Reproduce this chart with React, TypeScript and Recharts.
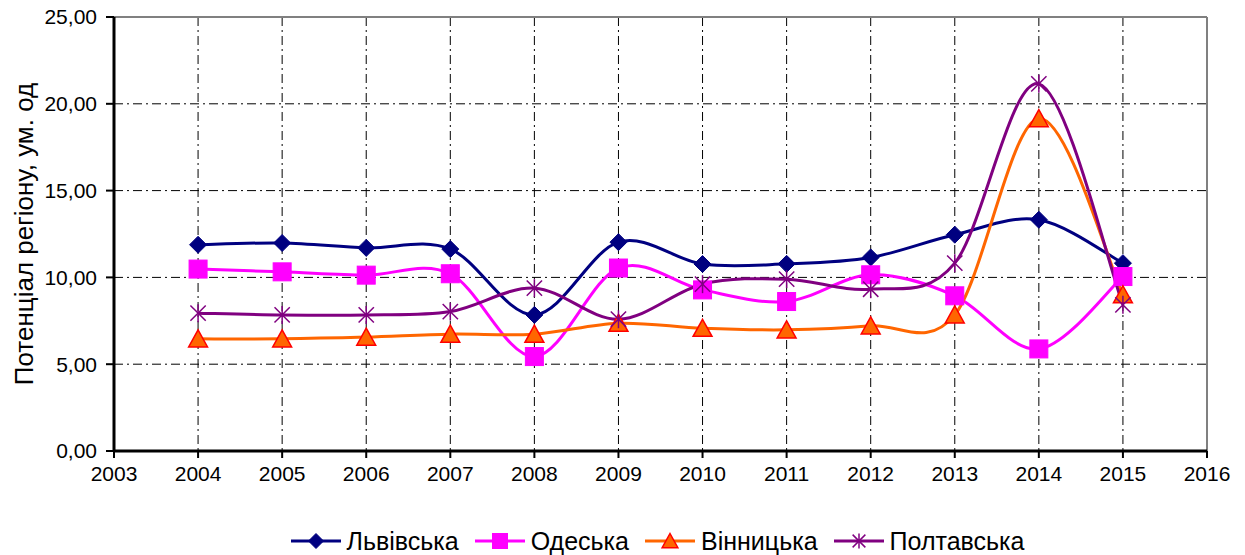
import React from 'react';
import { LineChart, Line, XAxis, YAxis, CartesianGrid, Legend, ReferenceLine } from 'recharts';

const years = [2004, 2005, 2006, 2007, 2008, 2009, 2010, 2011, 2012, 2013, 2014, 2015];
const lviv = [11.88, 11.98, 11.7, 11.63, 7.84, 12.03, 10.77, 10.78, 11.15, 12.46, 13.32, 10.82];
const odesa = [10.48, 10.32, 10.13, 10.21, 5.44, 10.54, 9.28, 8.61, 10.15, 8.94, 5.88, 10.05];
const vinnytsia = [6.46, 6.46, 6.56, 6.73, 6.73, 7.36, 7.07, 6.98, 7.21, 7.84, 19.15, 9.0];
const poltava = [7.94, 7.84, 7.84, 8.03, 9.38, 7.59, 9.61, 9.9, 9.32, 10.82, 21.15, 8.42];
const xTicks = [2003, 2004, 2005, 2006, 2007, 2008, 2009, 2010, 2011, 2012, 2013, 2014, 2015, 2016];
const yTicks = [0, 5, 10, 15, 20, 25];
const seriesNames = ['Львівська', 'Одеська', 'Вінницька', 'Полтавська'];
const yLabel = 'Потенціал регіону, ум. од';

const data = years.map((y, i) => ({
  year: y,
  lviv: lviv[i],
  odesa: odesa[i],
  vinnytsia: vinnytsia[i],
  poltava: poltava[i],
}));

const FONT = '"Liberation Sans", Arial, sans-serif';

// Excel-like smoothing (Catmull-Rom as cubic Bezier)
function excelCurve(context: any) {
  let pts: number[][] = [];
  return {
    areaStart() {},
    areaEnd() {},
    lineStart() {
      pts = [];
    },
    point(x: number, y: number) {
      pts.push([+x, +y]);
    },
    lineEnd() {
      const n = pts.length;
      if (!n) return;
      context.moveTo(pts[0][0], pts[0][1]);
      for (let i = 0; i < n - 1; i++) {
        const p0 = pts[Math.max(i - 1, 0)];
        const p1 = pts[i];
        const p2 = pts[i + 1];
        const p3 = pts[Math.min(i + 2, n - 1)];
        context.bezierCurveTo(
          p1[0] + (p2[0] - p0[0]) / 6,
          p1[1] + (p2[1] - p0[1]) / 6,
          p2[0] - (p3[0] - p1[0]) / 6,
          p2[1] - (p3[1] - p1[1]) / 6,
          p2[0],
          p2[1]
        );
      }
    },
  };
}

const Diamond = ({ cx, cy, s = 8.5 }: any) => (
  <polygon points={`${cx},${cy - s} ${cx + s},${cy} ${cx},${cy + s} ${cx - s},${cy}`} fill="#000080" stroke="#000080" strokeWidth={1} />
);
const Square = ({ cx, cy, s = 9 }: any) => (
  <rect x={cx - s} y={cy - s} width={2 * s} height={2 * s} fill="#FF00FF" stroke="#FF00FF" strokeWidth={1} />
);
const Triangle = ({ cx, cy, s = 9 }: any) => (
  <polygon points={`${cx},${cy - s} ${cx + s * 1.05},${cy + s * 0.9} ${cx - s * 1.05},${cy + s * 0.9}`} fill="#FF6600" stroke="#FF0000" strokeWidth={1.5} />
);
const Star = ({ cx, cy, s = 9 }: any) => (
  <g stroke="#800080" strokeWidth={1.5}>
    <line x1={cx} y1={cy - s} x2={cx} y2={cy + s} />
    <line x1={cx - s * 0.85} y1={cy - s * 0.85} x2={cx + s * 0.85} y2={cy + s * 0.85} />
    <line x1={cx - s * 0.85} y1={cy + s * 0.85} x2={cx + s * 0.85} y2={cy - s * 0.85} />
  </g>
);

const markers = [Diamond, Square, Triangle, Star];
const colors = ['#000080', '#FF00FF', '#FF6600', '#800080'];
const keys = ['lviv', 'odesa', 'vinnytsia', 'poltava'];

const makeDot = (M: any) => (props: any) => {
  const { cx, cy, key, index } = props;
  if (cx == null || cy == null) return <g key={key ?? index} />;
  return (
    <g key={key ?? `d-${index}`}>
      <M cx={cx} cy={cy} />
    </g>
  );
};

const LegendContent = () => (
  <div
    style={{
      width: 1245,
      height: 40,
      boxSizing: 'border-box',
      paddingTop: 12,
      paddingLeft: 70,
      display: 'flex',
      justifyContent: 'center',
      alignItems: 'center',
      fontFamily: FONT,
      fontSize: 25,
      color: '#000',
    }}
  >
    {seriesNames.map((name, i) => {
      const M = markers[i];
      return (
        <div key={name} style={{ display: 'flex', alignItems: 'center', marginRight: i < 3 ? 16 : 0 }}>
          <svg width={50} height={24} style={{ display: 'block' }}>
            <line x1={0} y1={12} x2={50} y2={12} stroke={colors[i]} strokeWidth={3} />
            <M cx={25} cy={12} s={7.5} />
          </svg>
          <span style={{ marginLeft: 6, lineHeight: '28px' }}>{name}</span>
        </div>
      );
    })}
  </div>
);

const YLabel = (props: any) => {
  const vb = props.viewBox || {};
  const x = 24;
  const y = (vb.y ?? 17) + (vb.height ?? 434) / 2;
  return (
    <text
      x={x}
      y={y}
      transform={`rotate(-90, ${x}, ${y})`}
      textAnchor="middle"
      dominantBaseline="central"
      fontFamily={FONT}
      fontSize={26}
      fill="#000"
    >
      {yLabel}
    </text>
  );
};

export default function App() {
  return (
    <div style={{ position: 'absolute', left: 0, top: 0, width: 1245, height: 555, background: '#fff' }}>
      <LineChart width={1245} height={555} data={data} margin={{ top: 17, right: 38, bottom: 0, left: 0 }}>
        <CartesianGrid stroke="#000" strokeWidth={1} strokeDasharray="9 4 2 4" />
        <XAxis
          dataKey="year"
          type="number"
          domain={[2003, 2016]}
          ticks={xTicks}
          interval={0}
          height={64}
          stroke="#000"
          axisLine={{ stroke: '#000', strokeWidth: 3 }}
          tickLine={{ stroke: '#000', strokeWidth: 2 }}
          tickSize={7}
          tick={{ fill: '#000', fontSize: 21, fontFamily: FONT, dy: 6 }}
          tickFormatter={(v: number) => String(v)}
        />
        <YAxis
          type="number"
          domain={[0, 25]}
          ticks={yTicks}
          interval={0}
          width={114}
          stroke="#000"
          axisLine={{ stroke: '#000', strokeWidth: 3 }}
          tickLine={{ stroke: '#000', strokeWidth: 2 }}
          tickSize={8}
          tick={{ fill: '#000', fontSize: 21, fontFamily: FONT, dx: -7 }}
          tickFormatter={(v: number) => v.toFixed(2).replace('.', ',')}
          label={<YLabel />}
        />
        <ReferenceLine y={25} stroke="#808080" strokeWidth={2} />
        <ReferenceLine x={2016} stroke="#808080" strokeWidth={2} />
        <Legend verticalAlign="bottom" content={<LegendContent />} wrapperStyle={{ left: 0, width: 1245 }} />
        {keys.map((k, i) => (
          <Line
            key={k}
            dataKey={k}
            name={seriesNames[i]}
            type={excelCurve as any}
            stroke={colors[i]}
            strokeWidth={3}
            dot={makeDot(markers[i])}
            activeDot={false}
            isAnimationActive={false}
          />
        ))}
      </LineChart>
    </div>
  );
}
